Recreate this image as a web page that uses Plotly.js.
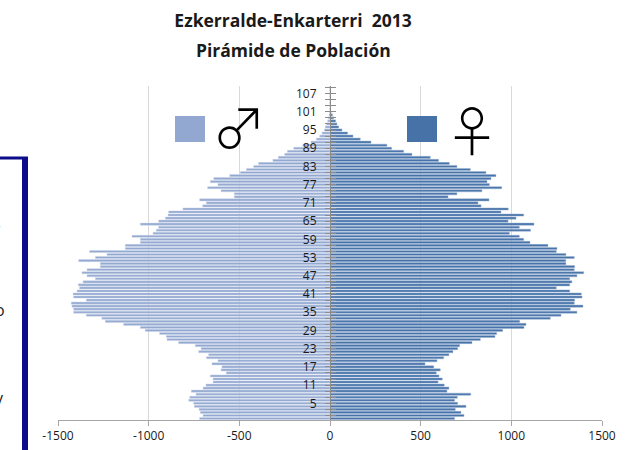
<!DOCTYPE html>
<html>
<head>
<meta charset="utf-8">
<script src="https://cdn.plot.ly/plotly-3.0.1.min.js"></script>
<style>
  html, body { margin: 0; padding: 0; background: #ffffff; }
  #chart { width: 636px; height: 450px; }
</style>
</head>
<body>
<div id="chart"></div>
<script>
// Age categories (single years)
const ages = [
  0,1,2,3,4,5,6,7,8,9,10,11,12,13,14,15,16,17,18,19,
  20,21,22,23,24,25,26,27,28,29,30,31,32,33,34,35,36,37,38,39,
  40,41,42,43,44,45,46,47,48,49,50,51,52,53,54,55,56,57,58,59,
  60,61,62,63,64,65,66,67,68,69,70,71,72,73,74,75,76,77,78,79,
  80,81,82,83,84,85,86,87,88,89,90,91,92,93,94,95,96,97,98,99,
  100,101,102,103,104,105,106,107,108,109
];

// Men (counts, drawn to the left)
const men = [
  719,700,715,722,748,752,779,774,739,765,
  700,684,645,645,660,572,601,596,651,618,
  682,669,724,711,743,835,899,903,940,1019,
  1046,1138,1239,1258,1344,1414,1414,1423,1427,1344,
  1414,1417,1395,1381,1388,1362,1294,1340,1368,1340,
  1267,1267,1386,1294,1230,1326,1129,1129,1046,1046,
  1092,976,958,945,1046,945,908,893,890,811,
  702,682,719,528,528,601,675,618,660,641,
  553,495,461,421,394,315,285,250,235,200,
  150,105,75,57,44,31,26,20,13,9,
  5,3,1,0,0,0,0,0,0,0
];

// Women (counts, drawn to the right)
const women = [
  687,739,722,691,750,704,687,702,776,645,
  656,630,596,619,601,586,608,572,524,590,
  627,656,678,704,715,783,829,910,919,952,
  1070,1081,1046,1215,1274,1362,1325,1395,1347,1349,
  1390,1386,1322,1248,1322,1334,1322,1362,1399,1347,
  1349,1301,1300,1347,1301,1248,1252,1202,1103,1068,
  1044,989,1106,1044,1125,982,1026,1068,943,983,
  833,816,877,651,700,838,947,879,866,888,
  915,860,774,700,658,599,553,452,406,340,
  314,226,167,127,97,66,48,38,31,20,
  13,6,3,1,0,0,0,0,0,0
];

// Axis ticks
const yTickVals = [5,11,17,23,29,35,41,47,53,59,65,71,77,83,89,95,101,107];
const xTickVals = [-1500,-1000,-500,0,500,1000,1500];
const xTickText = ['-1500','-1000','-500','0','500','1000','1500'];

const maleColor = '#93a8d0';
const femaleColor = '#4672a8';

const W = 636, H = 450;
const L = 58, R = 34, T = 86, B = 30;
const pw = W - L - R, ph = H - T - B;
const px = p => (p - L) / pw;       // pixel x -> paper
const py = p => (H - B - p) / ph;   // pixel y -> paper

const traces = [
  {
    type: 'bar', orientation: 'h', name: 'Hombres',
    y: ages, x: men.map(v => -v), customdata: men,
    marker: { color: maleColor, line: { color: '#cfd9ec', width: 0.5 } },
    hovertemplate: 'Edad %{y}: %{customdata}<extra>♂</extra>'
  },
  {
    type: 'bar', orientation: 'h', name: 'Mujeres',
    y: ages, x: women,
    marker: { color: femaleColor, line: { color: '#9fb7d6', width: 0.5 } },
    hovertemplate: 'Edad %{y}: %{x}<extra>♀</extra>'
  },
  {
    type: 'scatter', mode: 'none', x: [0], y: [0], yaxis: 'y2',
    showlegend: false, hoverinfo: 'skip'
  }
];

const tickFont = { family: 'Open Sans, sans-serif', size: 12, color: '#1a1a1a' };
const symFont = { family: 'Noto Sans CJK JP, DejaVu Sans, sans-serif', size: 54, color: '#000000', weight: 300 };

const layout = {
  width: W, height: H,
  margin: { l: L, r: R, t: T, b: B, pad: 0 },
  paper_bgcolor: '#ffffff', plot_bgcolor: '#ffffff',
  showlegend: false,
  barmode: 'relative',
  bargap: 0.3,
  title: {
    text: '<b>Ezkerralde-Enkarterri\u00a0 2013</b>',
    xref: 'container', yref: 'container',
    x: 293 / W, xanchor: 'center',
    y: 1 - 21 / H, yanchor: 'middle',
    font: { family: 'Open Sans, sans-serif', size: 17.5, color: '#1a1a1a' }
  },
  xaxis: {
    range: [-1500, 1500],
    tickvals: xTickVals, ticktext: xTickText,
    tickfont: tickFont,
    showgrid: true, gridcolor: '#d9d9d9', gridwidth: 1,
    zeroline: false,
    showline: true, linecolor: '#a6a6a6', linewidth: 1,
    ticks: 'outside', ticklen: 5, tickcolor: '#a6a6a6',
    fixedrange: true
  },
  yaxis: {
    range: [-0.5, 109.5],
    anchor: 'free', position: 0.5,
    tickvals: yTickVals,
    tickfont: tickFont,
    showgrid: false, zeroline: false,
    showline: true, linecolor: '#8c8c8c', linewidth: 1,
    ticks: 'outside', ticklen: 5, tickcolor: '#8c8c8c',
    ticklabelstandoff: 6,
    minor: { tickvals: [1,3,7,9,13,15,19,21,25,27,31,33,37,39,43,45,49,51,55,57,61,63,67,69,73,75,79,81,85,87,91,93,97,99,103,105,109], ticks: 'outside', ticklen: 5, tickcolor: '#8c8c8c' },
    layer: 'above traces',
    fixedrange: true
  },
  yaxis2: {
    range: [-0.5, 109.5],
    overlaying: 'y', anchor: 'free', position: 0.5, side: 'right',
    tickvals: [1,3,5,7,9,11,13,15,17,19,21,23,25,27,29,31,33,35,37,39,41,43,45,47,49,51,53,55,57,59,61,63,65,67,69,71,73,75,77,79,81,83,85,87,89,91,93,95,97,99,101,103,105,107,109],
    showticklabels: false, showgrid: false, zeroline: false, showline: false,
    ticks: 'outside', ticklen: 5, tickcolor: '#8c8c8c',
    fixedrange: true
  },
  shapes: [
    // legend swatches
    { type: 'rect', xref: 'paper', yref: 'paper', x0: px(175), x1: px(205), y0: py(142), y1: py(116),
      fillcolor: maleColor, line: { width: 0 } },
    { type: 'rect', xref: 'paper', yref: 'paper', x0: px(407), x1: px(437), y0: py(142), y1: py(116),
      fillcolor: femaleColor, line: { width: 0 } },
    // cut-off navy frame at the left edge
    { type: 'line', xref: 'paper', yref: 'paper', x0: px(25), x1: px(25), y0: py(455), y1: py(158),
      line: { color: '#0c0c8a', width: 6 } },
    { type: 'line', xref: 'paper', yref: 'paper', x0: px(-5), x1: px(28), y0: py(158), y1: py(158),
      line: { color: '#0c0c8a', width: 3 } }
  ],
  annotations: [
    { text: '<b>Pirámide de Población</b>', xref: 'paper', yref: 'paper',
      x: px(293), y: py(50), xanchor: 'center', yanchor: 'middle', showarrow: false,
      font: { family: 'Open Sans, sans-serif', size: 17.5, color: '#1a1a1a' } },
    { text: '♂', xref: 'paper', yref: 'paper', x: px(239), y: py(125),
      xanchor: 'center', yanchor: 'middle', showarrow: false, font: symFont },
    { text: '♀', xref: 'paper', yref: 'paper', x: px(472), y: py(128),
      xanchor: 'center', yanchor: 'middle', showarrow: false, font: symFont },
    // text fragments of a neighbouring box, cut by the image edge
    { text: ',', xref: 'paper', yref: 'paper', x: px(3), y: py(222),
      xanchor: 'right', yanchor: 'middle', showarrow: false,
      font: { family: 'Open Sans, sans-serif', size: 16, color: '#1a1a1a' } },
    { text: 'o', xref: 'paper', yref: 'paper', x: px(7), y: py(310),
      xanchor: 'right', yanchor: 'middle', showarrow: false,
      font: { family: 'Open Sans, sans-serif', size: 16, color: '#1a1a1a' } },
    { text: 'y', xref: 'paper', yref: 'paper', x: px(6), y: py(398),
      xanchor: 'right', yanchor: 'middle', showarrow: false,
      font: { family: 'Open Sans, sans-serif', size: 16, color: '#1a1a1a' } }
  ]
};

Plotly.newPlot('chart', traces, layout, { displayModeBar: false, staticPlot: true });
</script>
</body>
</html>
